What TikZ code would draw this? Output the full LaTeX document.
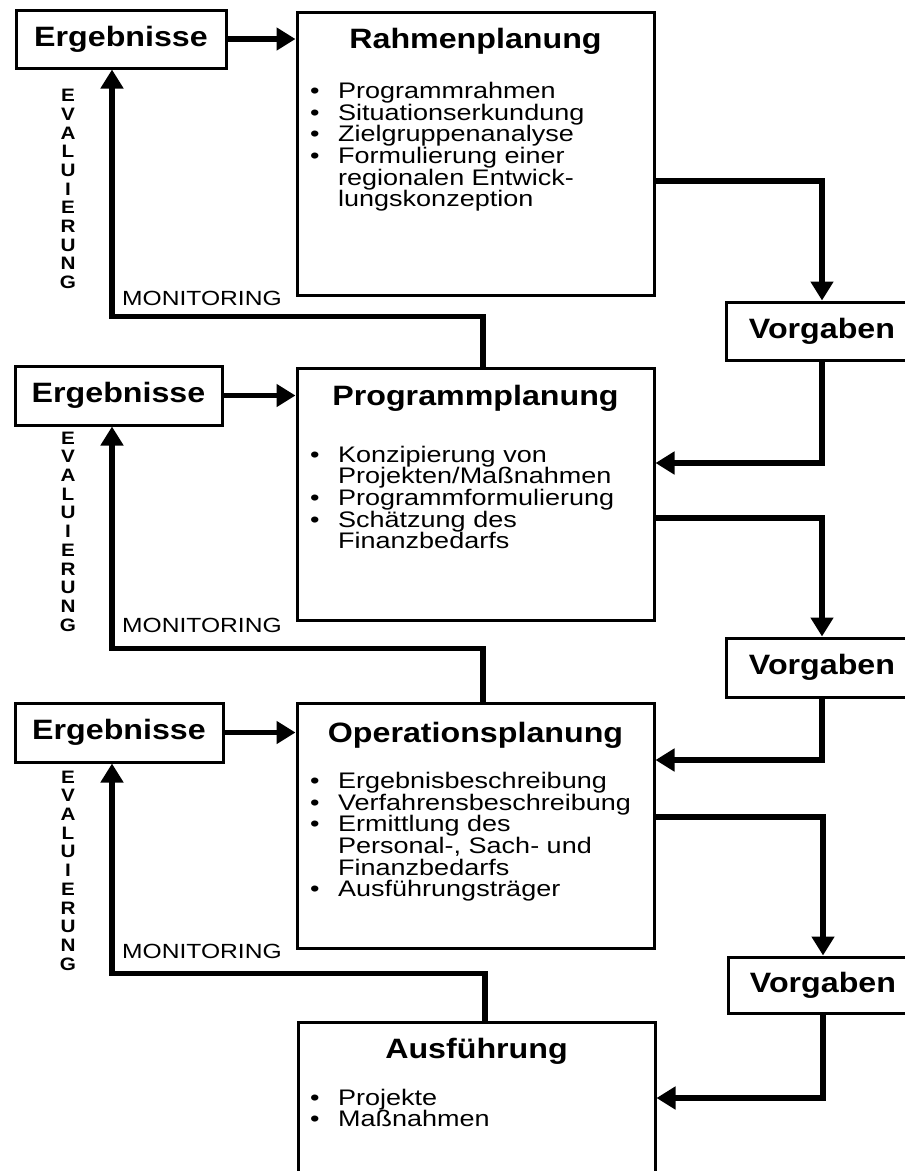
\documentclass[tikz,border=0pt]{standalone}
\usepackage{fontspec}
\setmainfont{Liberation Sans}[FakeStretch=1.2,BoldFeatures={FakeStretch=1.15}]
\usetikzlibrary{arrows.meta}

\newcommand{\itm}[1]{\hbox{\makebox[28pt][l]{\textbullet}#1}}
\newcommand{\cnt}[1]{\hbox{\hspace*{28pt}#1}}

\begin{document}
\begin{tikzpicture}[x=1pt,y=-1pt,
  box/.style={draw,line width=3pt,inner sep=0pt},
  head/.style={font=\fontsize{28}{30}\selectfont\bfseries,inner sep=0pt},
  list/.style={font=\fontsize{22.5}{21.7}\selectfont,inner sep=0pt,anchor=base west},
  mon/.style={font=\fontsize{20.5}{22}\selectfont,inner sep=0pt,anchor=base west},
  evl/.style={font=\fontsize{18}{18.7}\selectfont\bfseries,align=center,inner sep=0pt},
  conn/.style={line width=5.5pt,-{Triangle[length=19pt,width=22pt]}}]
\useasboundingbox (0,0) rectangle (905,1171);

\node[box,head,minimum width=210pt,minimum height=58pt] (erg1) at (121,39) {Ergebnisse};
\node[box,head,minimum width=207pt,minimum height=59pt] (erg2) at (118.5,395.5) {Ergebnisse};
\node[box,head,minimum width=208pt,minimum height=59pt] (erg3) at (119,732.5) {Ergebnisse};

\node[box,minimum width=357pt,minimum height=283pt] (rp) at (475.5,153.5) {};
\node[box,minimum width=357pt,minimum height=252pt] (pp) at (475.5,494) {};
\node[box,minimum width=357pt,minimum height=245pt] (op) at (475.5,825.5) {};
\node[box,minimum width=357pt,minimum height=150pt] (af) at (476.5,1097) {};

\node[box,head,minimum width=192pt,minimum height=58pt] (vg1) at (822,331) {Vorgaben};
\node[box,head,minimum width=192pt,minimum height=59pt] (vg2) at (822,667.5) {Vorgaben};
\node[box,head,minimum width=190pt,minimum height=56pt] (vg3) at (823,985) {Vorgaben};

\node[head,anchor=base] (rpt) at (475.5,48) {Rahmenplanung};
\node[head,anchor=base] (ppt) at (475.5,405) {Programmplanung};
\node[head,anchor=base] (opt) at (475.5,742) {Operationsplanung};
\node[head,anchor=base] (aft) at (476.5,1058) {Ausführung};

\node[list] (rpl) at (310,98.3) {\vtop{\lineskiplimit=-100pt
  \itm{Programmrahmen}\itm{Situationserkundung}\itm{Zielgruppenanalyse}
  \itm{Formulierung einer}\cnt{regionalen Entwick-}\cnt{lungskonzeption}}};
\node[list] (ppl) at (310,462) {\vtop{\lineskiplimit=-100pt
  \itm{Konzipierung von}\cnt{Projekten/Maßnahmen}\itm{Programmformulierung}
  \itm{Schätzung des}\cnt{Finanzbedarfs}}};
\node[list] (opl) at (310,788.3) {\vtop{\lineskiplimit=-100pt
  \itm{Ergebnisbeschreibung}\itm{Verfahrensbeschreibung}\itm{Ermittlung des}
  \cnt{Personal-, Sach- und}\cnt{Finanzbedarfs}\itm{Ausführungsträger}}};
\node[list] (afl) at (310,1105) {\vtop{\lineskiplimit=-100pt
  \itm{Projekte}\itm{Maßnahmen}}};

\node[evl] (ev1) at (68,189) {E\\V\\A\\L\\U\\I\\E\\R\\U\\N\\G};
\node[evl] (ev2) at (68,531.5) {E\\V\\A\\L\\U\\I\\E\\R\\U\\N\\G};
\node[evl] (ev3) at (68,870.5) {E\\V\\A\\L\\U\\I\\E\\R\\U\\N\\G};

\node[mon] (mon1) at (122,305) {MONITORING};
\node[mon] (mon2) at (122,632) {MONITORING};
\node[mon] (mon3) at (122,958) {MONITORING};

\draw[conn] (erg1.east) -- (erg1.east -| rp.west);
\draw[conn] (erg2.east) -- (erg2.east -| pp.west);
\draw[conn] (erg3.east) -- (erg3.east -| op.west);

\draw[conn] ([yshift=-27.5pt]rp.east) -| (vg1.north);
\draw[conn] (vg1.south) |- ([yshift=31pt]pp.east);
\draw[conn] ([yshift=-24pt]pp.east) -| (vg2.north);
\draw[conn] (vg2.south) |- ([yshift=65.5pt]op.east);
\draw[conn] ([yshift=8.5pt]op.east) -| (vg3.north);
\draw[conn] (vg3.south) |- ([yshift=-1pt]af.east);

\draw[conn] ([xshift=7.5pt]pp.north) -- ++(0,-50) -| ([xshift=-9pt]erg1.south);
\draw[conn] ([xshift=7.5pt]op.north) -- ++(0,-53) -| ([xshift=-6.5pt]erg2.south);
\draw[conn] ([xshift=8.5pt]af.north) -- ++(0,-47) -| ([xshift=-7pt]erg3.south);
\end{tikzpicture}
\end{document}
